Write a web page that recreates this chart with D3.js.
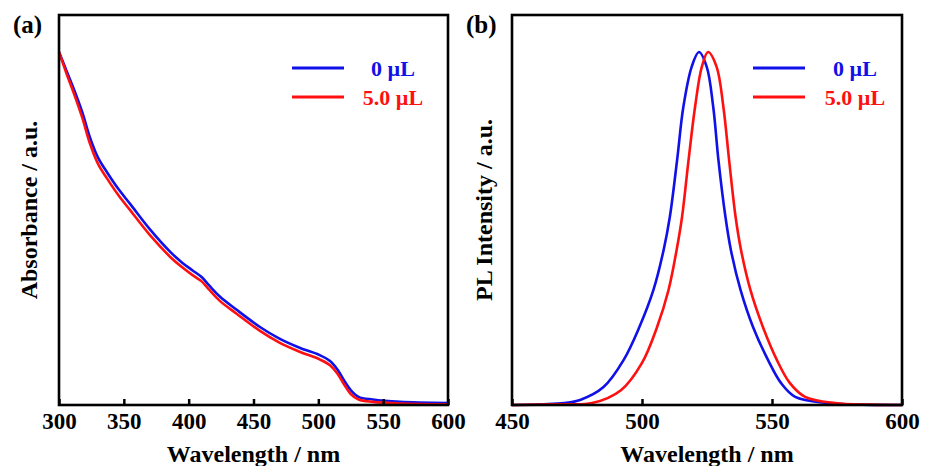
<!DOCTYPE html>
<html>
<head>
<meta charset="utf-8">
<script src="https://cdn.jsdelivr.net/npm/d3@7"></script>
<style>
	body { margin: 0; background: #fff; }
	svg text { font-family: 'Liberation Serif', 'Times New Roman', serif; font-weight: bold; }
</style>
</head>
<body>
<svg id="chart" width="925" height="466"></svg>
<script>
// absorbance, panel (a)
const absWavelength = [300, 306, 312, 318, 324, 330, 337, 346, 355, 370, 386, 395, 403, 410, 416, 424, 437, 455, 470, 486, 501, 509, 515, 520, 525, 531, 542, 563, 600]
const absBlank = [0.905, 0.855, 0.805, 0.750, 0.685, 0.635, 0.597, 0.553, 0.515, 0.451, 0.392, 0.365, 0.345, 0.328, 0.306, 0.278, 0.244, 0.200, 0.170, 0.146, 0.128, 0.113, 0.090, 0.062, 0.038, 0.021, 0.014, 0.008, 0.005]
const absAdded = [0.905, 0.848, 0.794, 0.736, 0.669, 0.619, 0.581, 0.537, 0.499, 0.436, 0.379, 0.353, 0.333, 0.317, 0.295, 0.267, 0.234, 0.190, 0.160, 0.136, 0.117, 0.102, 0.079, 0.052, 0.028, 0.014, 0.008, 0.004, 0.002]

// PL, panel (b)
const plWavelengthBlank = [450, 462, 470, 476.2, 485.2, 492.9, 499.0, 504.4, 508.3, 510.7, 513.5, 515.9, 519.1, 521.9, 524.9, 527.4, 529.4, 532.1, 534.2, 537.9, 542.7, 548.5, 553.5, 558.9, 571.2, 585, 600]
const plBlank = [0, 0.002, 0.005, 0.013, 0.046, 0.115, 0.200, 0.295, 0.397, 0.482, 0.628, 0.764, 0.867, 0.905, 0.867, 0.764, 0.628, 0.482, 0.397, 0.295, 0.200, 0.115, 0.056, 0.021, 0.005, 0.001, 0]
const plWavelengthAdded = [450, 468, 480.8, 491.9, 500.0, 505.8, 510.2, 513.3, 515.4, 517.9, 520.4, 523.0, 525.4, 528.7, 531.3, 533.5, 536.0, 538.1, 541.7, 546.5, 551.9, 556.9, 562.7, 574.2, 588, 600]
const plAdded = [0, 0.002, 0.005, 0.038, 0.108, 0.200, 0.295, 0.397, 0.482, 0.628, 0.764, 0.867, 0.905, 0.867, 0.764, 0.628, 0.482, 0.397, 0.295, 0.200, 0.115, 0.056, 0.021, 0.005, 0.001, 0]

const absTicks = [300, 350, 400, 450, 500, 550, 600]
const plTicks = [450, 500, 550, 600]
const legendLabels = ['0 \u00b5L', '5.0 \u00b5L']
const colors = ['#1010e8', '#ff1010']

const svg = d3.select('#chart')
const plotTop = 15
const plotBottom = 405

const panels = [
	{
		tag: '(a)', left: 59, right: 448, domain: [300, 600], ticks: absTicks,
		ytitle: 'Absorbance / a.u.', ytitleX: 37,
		series: [absWavelength.map((w, i) => [w, absBlank[i]]), absWavelength.map((w, i) => [w, absAdded[i]])],
		curve: d3.curveCatmullRom.alpha(0.5),
		legendX: 292, legendTextX: 393
	},
	{
		tag: '(b)', left: 512, right: 902, domain: [450, 600], ticks: plTicks,
		ytitle: 'PL Intensity / a.u.', ytitleX: 492,
		series: [plWavelengthBlank.map((w, i) => [w, plBlank[i]]), plWavelengthAdded.map((w, i) => [w, plAdded[i]])],
		curve: d3.curveCatmullRom.alpha(0.5),
		legendX: 753, legendTextX: 855
	}
]

const y = d3.scaleLinear().domain([0, 1]).range([plotBottom, plotTop])

panels.forEach(p => {
	const x = d3.scaleLinear().domain(p.domain).range([p.left, p.right])
	const g = svg.append('g')

	const line = d3.line()
		.x(d => x(d[0]))
		.y(d => y(d[1]))
		.curve(p.curve)

	// curves: draw blank first, then added on top
	p.series.forEach((s, i) => {
		g.append('path')
			.datum(s)
			.attr('d', line)
			.attr('fill', 'none')
			.attr('stroke', colors[i])
			.attr('stroke-width', 2.6)
	})

	// x axis with inward ticks
	const axis = g.append('g')
		.attr('transform', `translate(0,${plotBottom})`)
		.call(d3.axisBottom(x).tickValues(p.ticks).tickSizeInner(-6).tickSizeOuter(0))
	axis.select('.domain').remove()
	axis.selectAll('line').attr('stroke', '#000').attr('stroke-width', 2.5)
	axis.selectAll('text')
		.attr('y', 24)
		.attr('dy', null)
		.attr('fill', '#000')
		.style('font-size', '23px')
		.style('font-family', "'Liberation Serif', serif")
		.style('font-weight', 'bold')

	// frame
	g.append('rect')
		.attr('x', p.left)
		.attr('y', plotTop)
		.attr('width', p.right - p.left)
		.attr('height', plotBottom - plotTop)
		.attr('fill', 'none')
		.attr('stroke', '#000')
		.attr('stroke-width', 2.6)

	// titles
	g.append('text')
		.attr('x', (p.left + p.right) / 2)
		.attr('y', 462)
		.attr('text-anchor', 'middle')
		.style('font-size', '24px')
		.text('Wavelength / nm')

	g.append('text')
		.attr('transform', `translate(${p.ytitleX},${(plotTop + plotBottom) / 2}) rotate(-90)`)
		.attr('text-anchor', 'middle')
		.style('font-size', '24px')
		.text(p.ytitle)

	g.append('text')
		.attr('x', p.left - 46)
		.attr('y', 33)
		.style('font-size', '25px')
		.text(p.tag)

	// legend
	legendLabels.forEach((lab, i) => {
		const ly = 68 + i * 29
		g.append('line')
			.attr('x1', p.legendX)
			.attr('x2', p.legendX + 52)
			.attr('y1', ly)
			.attr('y2', ly)
			.attr('stroke', colors[i])
			.attr('stroke-width', 3)
		g.append('text')
			.attr('x', p.legendTextX)
			.attr('y', ly + 8)
			.attr('text-anchor', 'middle')
			.attr('fill', colors[i])
			.style('font-size', '22px')
			.text(lab)
	})
})
</script>
</body>
</html>
